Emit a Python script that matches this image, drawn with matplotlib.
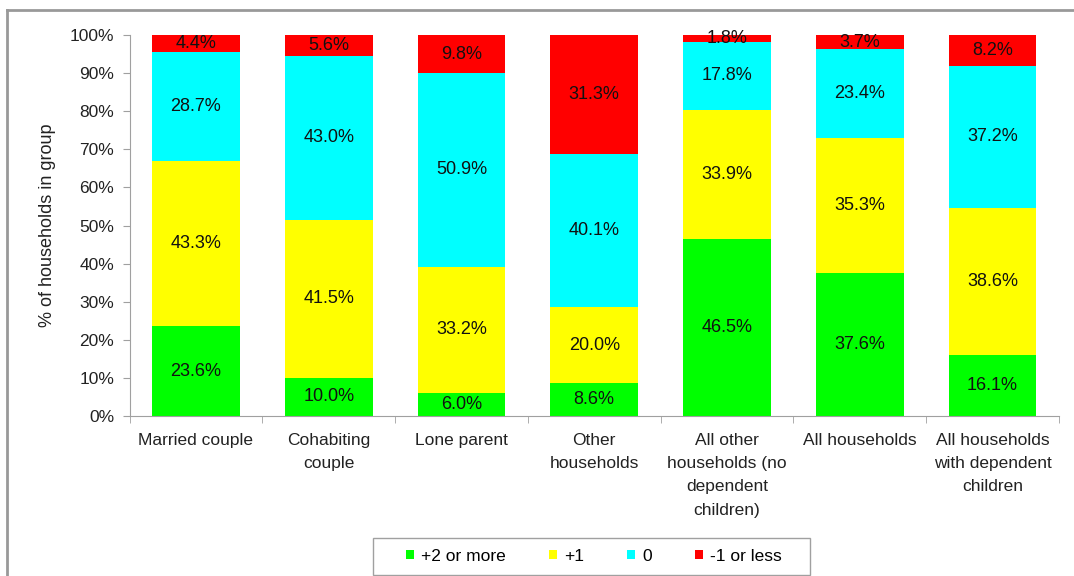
from matplotlib import pyplot as plt
from matplotlib.lines import Line2D
from matplotlib.patches import Rectangle
import numpy as np

plt.rcParams['font.family'] = ['Liberation Sans', 'DejaVu Sans']

categories = ['Married couple', 'Cohabiting\ncouple', 'Lone parent', 'Other\nhouseholds',
              'All other\nhouseholds (no\ndependent\nchildren)', 'All households',
              'All households\nwith dependent\nchildren']
plus2 = [23.6, 10.0, 6.0, 8.6, 46.5, 37.6, 16.1]
plus1 = [43.3, 41.5, 33.2, 20.0, 33.9, 35.3, 38.6]
zero = [28.7, 43.0, 50.9, 40.1, 17.8, 23.4, 37.2]
minus1 = [4.4, 5.6, 9.8, 31.3, 1.8, 3.7, 8.2]
series_names = ['+2 or more', '+1', '0', '-1 or less']
colors = ['#00ff00', '#ffff00', '#00ffff', '#ff0000']

fig = plt.figure(figsize=(10.74, 5.76), dpi=100)
ax = fig.add_axes([0.1206, 0.2778, 0.8654, 0.6614])

x = np.arange(len(categories))
bottom = np.zeros(len(categories))
for vals, name, c in zip([plus2, plus1, zero, minus1], series_names, colors):
    vals = np.array(vals)
    ax.bar(x, vals, 0.66, bottom=bottom, color=c, label=name)
    for xi, b, v in zip(x, bottom, vals):
        ax.text(xi, b + v / 2, '%.1f%%' % v, ha='center', va='center', fontsize=13, color='#111111')
    bottom += vals

ax.set_xlim(-0.5, len(categories) - 0.5)
ax.set_ylim(0, 100)
ax.set_yticks(np.arange(0, 101, 10))
ax.set_yticklabels(['%d%%' % v for v in range(0, 101, 10)])
ax.set_xticks(x)
ax.set_xticklabels(categories, fontsize=12.5, color='#222222', linespacing=1.7)
ax.set_xticks(np.arange(-0.5, len(categories)), minor=True)
ax.tick_params(axis='x', which='major', length=0, pad=12)
ax.tick_params(axis='x', which='minor', length=5, color='#a0a0a0', direction='out')
ax.tick_params(axis='y', length=5, color='#a0a0a0', labelsize=12.5, labelcolor='#222222', pad=6)
for s in ['top', 'right']:
    ax.spines[s].set_visible(False)
for s in ['left', 'bottom']:
    ax.spines[s].set_color('#a0a0a0')
ax.set_ylabel('% of households in group', fontsize=13, color='#222222', labelpad=10)

leg = fig.legend(loc='center', bbox_to_anchor=(594 / 1074, 1 - 556.5 / 576), ncol=4, fontsize=12.5,
                 handlelength=0.45, handleheight=0.45, columnspacing=2.5, handletextpad=0.4,
                 frameon=False)
# legend box
fig.add_artist(Rectangle((373 / 1074, 1 - 575 / 576), 437 / 1074, 37 / 576, fill=False,
                         edgecolor='#a0a0a0', lw=1.0, transform=fig.transFigure))

# outer frame of the chart area
fig.add_artist(Line2D([0.0065, 1.0], [0.983, 0.983], color='#999999', lw=2, transform=fig.transFigure))
fig.add_artist(Line2D([0.0065, 0.0065], [0.0, 0.983], color='#999999', lw=2, transform=fig.transFigure))

fig.savefig('out.png')
